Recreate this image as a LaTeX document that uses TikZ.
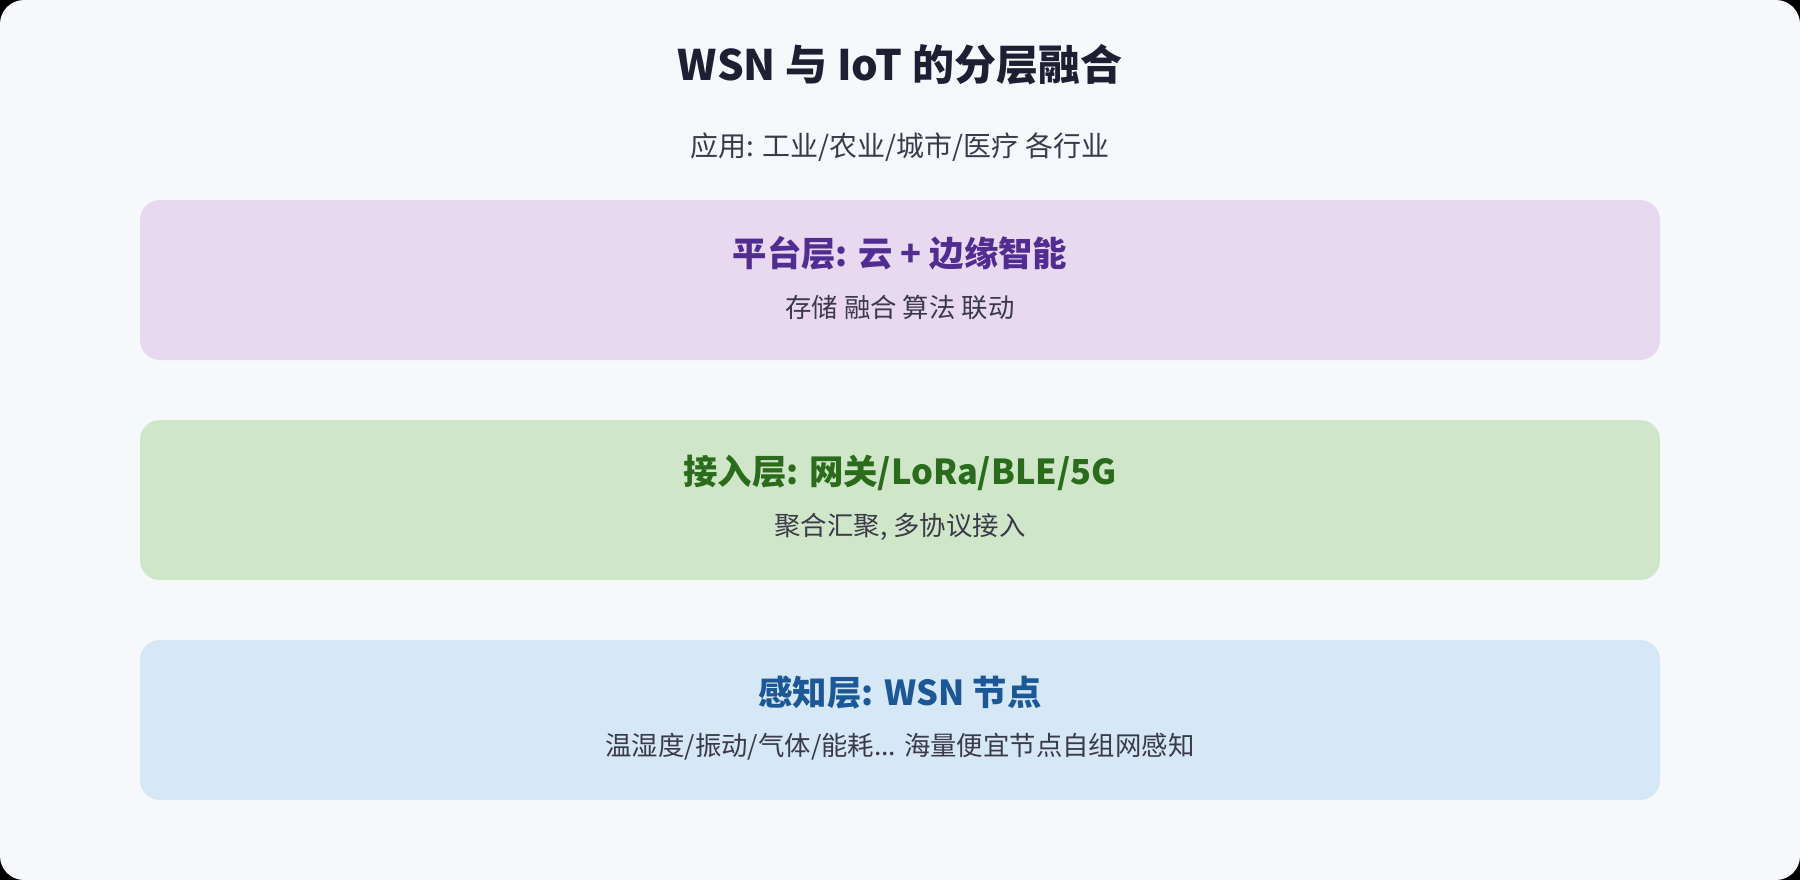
\documentclass[tikz,border=0pt]{standalone}
\usepackage{fontspec}
\setmainfont{Noto Sans CJK SC}
\usetikzlibrary{positioning}

\definecolor{cardbg}{HTML}{F7F8FC}
\definecolor{headtext}{HTML}{1F1F33}
\definecolor{bodytext}{HTML}{3A3A4A}
\definecolor{platfill}{HTML}{E8D8F0}
\definecolor{plattext}{HTML}{512D91}
\definecolor{accfill}{HTML}{D0E6C8}
\definecolor{acctext}{HTML}{2A6B1C}
\definecolor{sensfill}{HTML}{D6E7F5}
\definecolor{senstext}{HTML}{1C5896}

\tikzset{
    layer/.style={rounded corners=10pt, minimum width=760pt, minimum height=80pt, inner sep=0pt},
    layertitle/.style={font=\fontsize{17.2}{21}\selectfont\bfseries},
    layersub/.style={font=\fontsize{13.2}{16}\selectfont, text=bodytext},
}

\begin{document}
\begin{tikzpicture}[x=0.5pt,y=-0.5pt]
        \useasboundingbox (0,0) rectangle (1800,880);
        \fill[black] (0,0) rectangle (1800,880);
        \fill[cardbg, rounded corners=12pt] (0,0) rectangle (1800,880);

        \node[font=\fontsize{21}{25}\selectfont\bfseries, text=headtext] (title) at (900,65) {WSN 与 IoT 的分层融合};
        \node[font=\fontsize{14}{17}\selectfont, text=bodytext] (apps) at (900,147) {应用: 工业/农业/城市/医疗 各行业};

        \node[layer, fill=platfill] (platform) at (900,280) {};
        \node[layertitle, text=plattext] (platformtitle) at (900,253) {平台层: 云 + 边缘智能};
        \node[layersub] (platformsub) at (900,307) {存储 融合 算法 联动};

        \node[layer, fill=accfill] (access) at (900,500) {};
        \node[layertitle, text=acctext] (accesstitle) at (900,473) {接入层: 网关/LoRa/BLE/5G};
        \node[layersub] (accesssub) at (900,527) {聚合汇聚, 多协议接入};

        \node[layer, fill=sensfill] (sensing) at (900,720) {};
        \node[layertitle, text=senstext] (sensingtitle) at (900,693) {感知层: WSN 节点};
        \node[layersub] (sensingsub) at (900,747) {温湿度/振动/气体/能耗... 海量便宜节点自组网感知};
    \end{tikzpicture}
\end{document}
